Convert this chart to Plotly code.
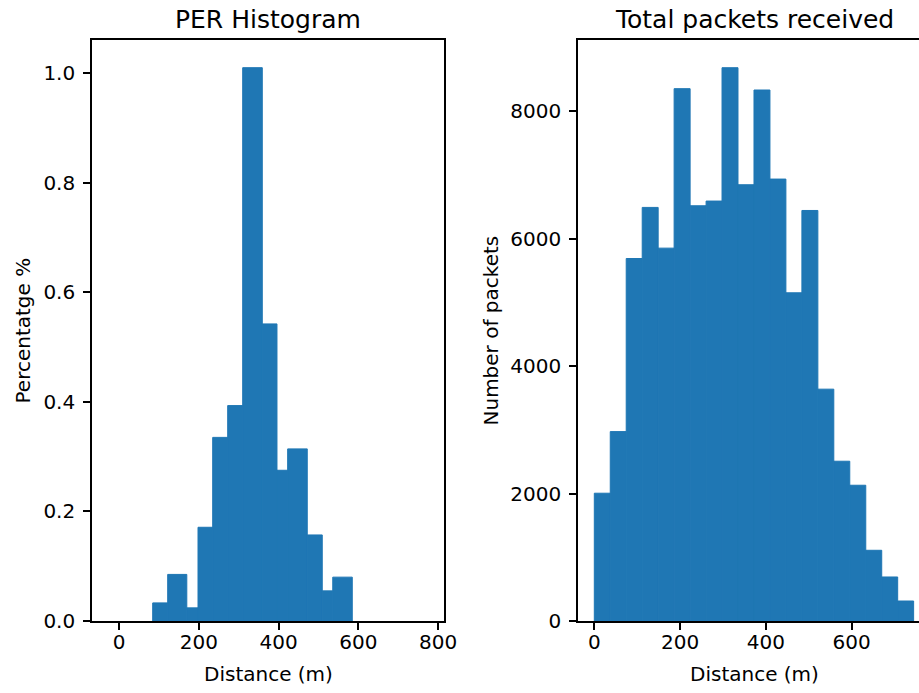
import plotly.graph_objects as go

# ---- data ----
per_edges = [84.4, 122.0, 169.9, 198.0, 234.8, 272.4, 310.0, 359.1, 395.9, 422.7, 471.8, 509.4, 535.7, 584.6]
per_values = [0.033, 0.085, 0.024, 0.171, 0.335, 0.393, 1.0095, 0.542, 0.275, 0.314, 0.157, 0.055, 0.080]

pkt_edges = [0.0, 37.2, 74.4, 111.7, 148.9, 186.1, 223.4, 260.6, 297.8, 335.0, 372.3,
             409.5, 446.7, 484.0, 521.2, 558.4, 595.6, 632.9, 670.1, 707.3, 744.5]
pkt_counts = [2006, 2973, 5690, 6492, 5853, 8356, 6518, 6592, 8685, 6848, 8335,
              6937, 5152, 6444, 3639, 2508, 2131, 1110, 691, 314]

per_xticks = [0, 200, 400, 600, 800]
per_yticks = [0.0, 0.2, 0.4, 0.6, 0.8, 1.0]
pkt_xticks = [0, 200, 400, 600]
pkt_yticks = [0, 2000, 4000, 6000, 8000]

titles = ["PER Histogram", "Total packets received"]
xlabel = "Distance (m)"
ylabels = ["Percentatge %", "Number of packets"]

# ---- figure ----
W, H = 919, 693
BLUE = "#1f77b4"
FONT = "DejaVu Sans"
TICK_SIZE = 20
TITLE_SIZE = 25


def centers_widths(edges):
    c = [(a + b) / 2 for a, b in zip(edges[:-1], edges[1:])]
    w = [b - a for a, b in zip(edges[:-1], edges[1:])]
    return c, w


fig = go.Figure()
c1, w1 = centers_widths(per_edges)
fig.add_trace(go.Bar(x=c1, y=per_values, width=w1, marker=dict(color=BLUE, line=dict(width=1, color=BLUE)),
                     xaxis="x", yaxis="y", showlegend=False))
c2, w2 = centers_widths(pkt_edges)
fig.add_trace(go.Bar(x=c2, y=pkt_counts, width=w2, marker=dict(color=BLUE, line=dict(width=1, color=BLUE)),
                     xaxis="x2", yaxis="y2", showlegend=False))

top_px, bot_px = 40, 621
ydom = [1 - bot_px / H, 1 - top_px / H]

axis_common = dict(
    showgrid=False, zeroline=False, showline=True, linecolor="black", linewidth=1.6,
    ticks="outside", ticklen=7, tickwidth=1.6, tickcolor="black",
    tickfont=dict(family=FONT, size=TICK_SIZE, color="black"),
    automargin=False, fixedrange=True,
)

fig.update_layout(
    width=W, height=H,
    margin=dict(l=0, r=0, t=0, b=0),
    paper_bgcolor="white", plot_bgcolor="white",
    barmode="overlay",
    xaxis=dict(domain=[92 / W, 444 / W], range=[-67.7, 814.5], tickvals=per_xticks,
               mirror=True, anchor="y", ticklabelstandoff=-5, **axis_common),
    yaxis=dict(domain=ydom, range=[0, 1.06], tickvals=per_yticks,
               ticktext=[f"{v:.1f}" for v in per_yticks],
               mirror=True, anchor="x", ticklabelstandoff=4, **axis_common),
    xaxis2=dict(domain=[578 / W, 1.0], range=[-38, 757], tickvals=pkt_xticks,
                mirror=True, anchor="y2", ticklabelstandoff=-5, **axis_common),
    yaxis2=dict(domain=ydom, range=[0, 9120], tickvals=pkt_yticks,
                mirror=False, anchor="x2", ticklabelstandoff=4, **axis_common),
)

ann_font = dict(family=FONT, size=TICK_SIZE, color="black")
title_font = dict(family=FONT, size=TITLE_SIZE, color="black")
annotations = [
    dict(text=titles[0], x=268 / W, y=1 - 19 / H, font=title_font),
    dict(text=titles[1], x=754 / W, y=1 - 19 / H, font=title_font),
    dict(text=xlabel, x=268 / W, y=1 - 674 / H, font=ann_font),
    dict(text=xlabel, x=754 / W, y=1 - 674 / H, font=ann_font),
    dict(text=ylabels[0], x=22 / W, y=1 - 330.5 / H, textangle=-90, font=ann_font),
    dict(text=ylabels[1], x=490 / W, y=1 - 330.5 / H, textangle=-90, font=ann_font),
]
for a in annotations:
    a.update(xref="paper", yref="paper", showarrow=False, xanchor="center", yanchor="middle")
fig.update_layout(annotations=annotations)

fig.write_html("out.html")
